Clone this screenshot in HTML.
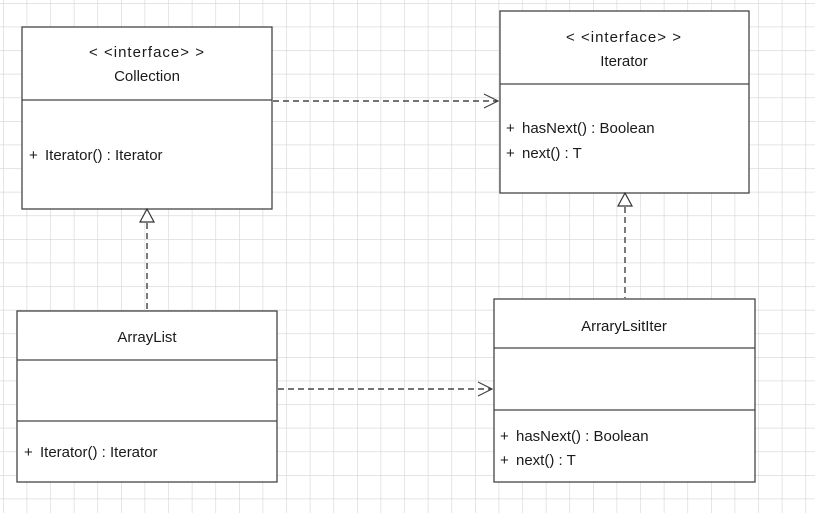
<!DOCTYPE html>
<html><head><meta charset="utf-8"><style>
html,body{margin:0;padding:0;width:815px;height:513px;overflow:hidden;background:#fff;}
svg{display:block}
text{font-family:"Liberation Sans","Noto Sans CJK SC",sans-serif;font-size:15px;fill:#1a1a1a}
</style></head><body>
<svg width="815" height="513" xmlns="http://www.w3.org/2000/svg">
<defs>
<pattern id="g" x="3" y="3" width="23.6" height="23.6" patternUnits="userSpaceOnUse">
<path d="M0 0H23.6M0 0V23.6" stroke="#d4d4d4" stroke-width="1.2" fill="none"/>
</pattern>
</defs>
<rect width="815" height="513" fill="url(#g)"/>
<g stroke="#444" stroke-width="1.3" fill="#fff">
<rect x="22" y="27" width="250" height="182"/>
<line x1="22" y1="100" x2="272" y2="100"/>
<rect x="500" y="11" width="249" height="182"/>
<line x1="500" y1="84" x2="749" y2="84"/>
<rect x="17" y="311" width="260" height="171"/>
<line x1="17" y1="360" x2="277" y2="360"/>
<line x1="17" y1="421" x2="277" y2="421"/>
<rect x="494" y="299" width="261" height="183"/>
<line x1="494" y1="348" x2="755" y2="348"/>
<line x1="494" y1="410" x2="755" y2="410"/>
</g>
<g stroke="#222" stroke-width="1.2" fill="none" stroke-dasharray="6,4">
<line x1="273" y1="101" x2="498" y2="101"/>
<line x1="278" y1="389" x2="492" y2="389"/>
<line x1="147" y1="223" x2="147" y2="310"/>
<line x1="625" y1="207" x2="625" y2="298"/>
</g>
<g stroke="#444" stroke-width="1.2" fill="none">
<polyline points="484,94 498,101 484,108"/>
<polyline points="478,382 492,389 478,396"/>
</g>
<g stroke="#333" stroke-width="1.2" fill="#fff">
<polygon points="147,209 140,222 154,222"/>
<polygon points="625,193 618,206 632,206"/>
</g>
<text x="147" y="57" text-anchor="middle" letter-spacing="1">&lt; &lt;interface&gt; &gt;</text>
<text x="147" y="81" text-anchor="middle">Collection</text>
<text x="29" y="160">+</text><text x="45" y="160">Iterator() : Iterator</text>
<text x="624" y="42" text-anchor="middle" letter-spacing="1">&lt; &lt;interface&gt; &gt;</text>
<text x="624" y="66" text-anchor="middle">Iterator</text>
<text x="506" y="133">+</text><text x="522" y="133">hasNext() : Boolean</text>
<text x="506" y="158">+</text><text x="522" y="158">next() : T</text>
<text x="147" y="342" text-anchor="middle">ArrayList</text>
<text x="24" y="457">+</text><text x="40" y="457">Iterator() : Iterator</text>
<text x="624" y="331" text-anchor="middle">ArraryLsitIter</text>
<text x="500" y="441">+</text><text x="516" y="441">hasNext() : Boolean</text>
<text x="500" y="465">+</text><text x="516" y="465">next() : T</text>
</svg>
</body></html>
